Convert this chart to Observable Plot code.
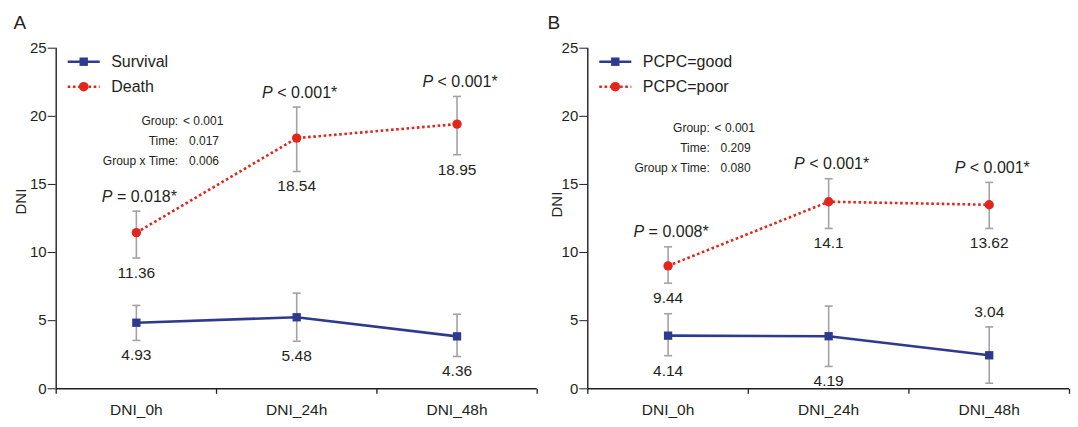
<!DOCTYPE html>
<html><head><meta charset="utf-8">
<script src="https://cdn.jsdelivr.net/npm/d3@7"></script>
<script src="https://cdn.jsdelivr.net/npm/@observablehq/plot@0.6"></script>
<style>
html,body{margin:0;padding:0;background:#fff;}
#root{display:flex;width:1078px;height:427px;overflow:hidden;background:#fff;}
</style></head><body><div id="root"></div>
<script>
const categories = ["DNI_0h", "DNI_24h", "DNI_48h"];

// Panel A
const survivalMean = [4.85, 5.25, 3.85];
const survivalLow  = [3.55, 3.49, 2.37];
const survivalHigh = [6.12, 7.02, 5.47];
const survivalText = ["4.93", "5.48", "4.36"];
const deathMean = [11.46, 18.40, 19.43];
const deathLow  = [9.60, 15.95, 17.18];
const deathHigh = [13.04, 20.68, 21.46];
const deathText = ["11.36", "18.54", "18.95"];
const deathP = ["P = 0.018*", "P < 0.001*", "P < 0.001*"];
const statNames = ["Group:", "Time:", "Group x Time:"];
const statsA = ["< 0.001", "0.017", "0.006"];

// Panel B
const goodMean = [3.90, 3.86, 2.46];
const goodLow  = [2.43, 1.64, 0.41];
const goodHigh = [5.51, 6.07, 4.54];
const goodText = ["4.14", "4.19", "3.04"];
const goodTextSide = ["below", "below", "above"];
const poorMean = [9.02, 13.73, 13.51];
const poorLow  = [7.75, 11.77, 11.77];
const poorHigh = [10.42, 15.42, 15.15];
const poorText = ["9.44", "14.1", "13.62"];
const poorP = ["P = 0.008*", "P < 0.001*", "P < 0.001*"];
const statsB = ["< 0.001", "0.209", "0.080"];

const FONT = "'Liberation Sans', Arial, Helvetica, sans-serif";
const AX = "#231f20";
const GRAY = "#a2a2a2";
const BLUE = "#2e3a8e";
const RED = "#e3261c";
const CAP = {draw(ctx) { ctx.moveTo(-4, 0); ctx.lineTo(4, 0); }};
const XTICK = {draw(ctx) { ctx.moveTo(0, 0); ctx.lineTo(0, 5); }};

function rows(mean, low, high, text, side, p) {
  return categories.map((c, i) => ({i, cat: c, mean: mean[i], low: low[i], high: high[i],
    text: text[i], side: side ? side[i] : "below", p: p ? p[i] : null}));
}

function panel(cfg) {
  const marginTop = 47.7, marginBottom = 38.7;
  const bounds = d3.range(categories.length + 1).map(k => k - 0.5);
  const marks = [
    Plot.ruleY([0], {stroke: AX, strokeWidth: 1.4}),
    Plot.ruleX([-0.5], {stroke: AX, strokeWidth: 1.4}),
    Plot.dot(bounds, {x: d => d, y: bounds.map(() => 0), symbol: XTICK, stroke: AX, strokeWidth: 1.3, fill: "none"}),
    Plot.text(categories, {x: (d, i) => i, text: d => d, frameAnchor: "bottom", dy: 26, fontSize: 15.5, fill: AX}),
    Plot.text(["DNI"], {text: d => d, frameAnchor: "left", dx: cfg.dniDx, dy: cfg.dniDy, rotate: -90, fontSize: 15, fill: AX}),
    Plot.text([cfg.letter], {text: d => d, frameAnchor: "top-left", dx: cfg.letterX - cfg.marginLeft, dy: 28.5 - marginTop, lineAnchor: "bottom", fontSize: 19, fill: AX, textAnchor: "start"}),
    Plot.text([statNames.join("\n")], {text: d => d, frameAnchor: "top-left", dx: 122, dy: cfg.statDy, textAnchor: "end", lineAnchor: "middle", lineHeight: 1.67, fontSize: 12, fill: AX}),
    Plot.text([cfg.stats.map(v => v.startsWith("<") ? v : "\u2002" + v).join("\n")], {text: d => d, frameAnchor: "top-left", dx: 126.8, dy: cfg.statDy, textAnchor: "start", lineAnchor: "middle", lineHeight: 1.67, fontSize: 12, fill: AX})
  ];
  for (const s of cfg.series) {
    marks.push(Plot.ruleX(s.rows, {x: "i", y1: "low", y2: "high", stroke: GRAY, strokeWidth: 1.6}));
    marks.push(Plot.dot(s.rows, {x: "i", y: "low", symbol: CAP, stroke: GRAY, strokeWidth: 1.6, fill: "none"}));
    marks.push(Plot.dot(s.rows, {x: "i", y: "high", symbol: CAP, stroke: GRAY, strokeWidth: 1.6, fill: "none"}));
  }
  for (const s of cfg.series) {
    marks.push(Plot.line(s.rows, {x: "i", y: "mean", stroke: s.color, strokeWidth: 2.6, strokeDasharray: s.dash, strokeLinecap: "butt", strokeLinejoin: "miter"}));
  }
  for (const s of cfg.series) {
    marks.push(Plot.dot(s.rows, {x: "i", y: "mean", symbol: s.symbol, r: s.r, fill: s.color, stroke: "none"}));
    marks.push(Plot.text(s.rows.filter(d => d.side === "below"), {x: "i", y: "low", text: "text", dy: 15, fontSize: 15.5, fill: AX}));
    marks.push(Plot.text(s.rows.filter(d => d.side === "above"), {x: "i", y: "high", text: "text", dy: -15, fontSize: 15.5, fill: AX}));
    if (s.rows[0].p) marks.push(Plot.text(s.rows, {x: "i", y: "high", text: "p", dy: -14.5, dx: 3, fontSize: 16, fill: AX}));
  }
  const svg = Plot.plot({
    width: cfg.width, height: 427,
    marginTop, marginBottom, marginLeft: cfg.marginLeft, marginRight: cfg.marginRight,
    x: {domain: [-0.5, categories.length - 0.5], axis: null},
    y: {domain: [0, 25], ticks: 5, tickSize: 8, tickPadding: 1.5, label: null},
    style: {fontFamily: FONT, fontSize: "15px", color: AX, background: "white", overflow: "visible"},
    marks
  });
  const root = d3.select(svg);
  // italic P
  root.selectAll("text").filter(function() { return /^P [=<]/.test(this.textContent); }).each(function() {
    const t = this.textContent, sel = d3.select(this);
    sel.text(null);
    sel.append("tspan").attr("font-style", "italic").text("P");
    sel.append("tspan").text(t.slice(1));
  });
  // legend
  const g = root.append("g").attr("transform", `translate(${cfg.marginLeft},${marginTop})`)
    .attr("font-family", FONT).attr("font-size", 16).attr("fill", AX).attr("text-anchor", "start");
  cfg.series.forEach((s, k) => {
    const yy = 14 + k * 25;
    g.append("line").attr("x1", 12).attr("x2", 44).attr("y1", yy).attr("y2", yy)
      .attr("stroke", s.color).attr("stroke-width", 2.6).attr("stroke-linecap", "butt")
      .attr("stroke-dasharray", s.dash || null);
    if (s.symbol === "square") g.append("rect").attr("x", 23.8).attr("y", yy - 4.2).attr("width", 8.4).attr("height", 8.4).attr("fill", s.color);
    else g.append("circle").attr("cx", 28).attr("cy", yy).attr("r", 4.8).attr("fill", s.color);
    g.append("text").attr("x", 55.5).attr("y", yy).attr("dy", "0.36em").attr("text-anchor", "start").text(s.name);
  });
  return svg;
}

const root = document.getElementById("root");
root.appendChild(panel({
  letter: "A", letterX: 13, width: 539, marginLeft: 55.7, marginRight: 2.3,
  dniDx: -34.7, dniDy: -4, statDy: 90.6, stats: statsA,
  series: [
    {name: "Survival", color: BLUE, dash: null, symbol: "square", r: 4.7, rows: rows(survivalMean, survivalLow, survivalHigh, survivalText)},
    {name: "Death", color: RED, dash: "2.6,2.6", symbol: "circle", r: 4.7, rows: rows(deathMean, deathLow, deathHigh, deathText, null, deathP)}
  ]
}));
root.appendChild(panel({
  letter: "B", letterX: 8, width: 539, marginLeft: 48.3, marginRight: 9,
  dniDx: -30.3, dniDy: -1, statDy: 97.3, stats: statsB,
  series: [
    {name: "PCPC=good", color: BLUE, dash: null, symbol: "square", r: 4.7, rows: rows(goodMean, goodLow, goodHigh, goodText, goodTextSide)},
    {name: "PCPC=poor", color: RED, dash: "2.6,2.6", symbol: "circle", r: 4.7, rows: rows(poorMean, poorLow, poorHigh, poorText, null, poorP)}
  ]
}));
</script></body></html>
